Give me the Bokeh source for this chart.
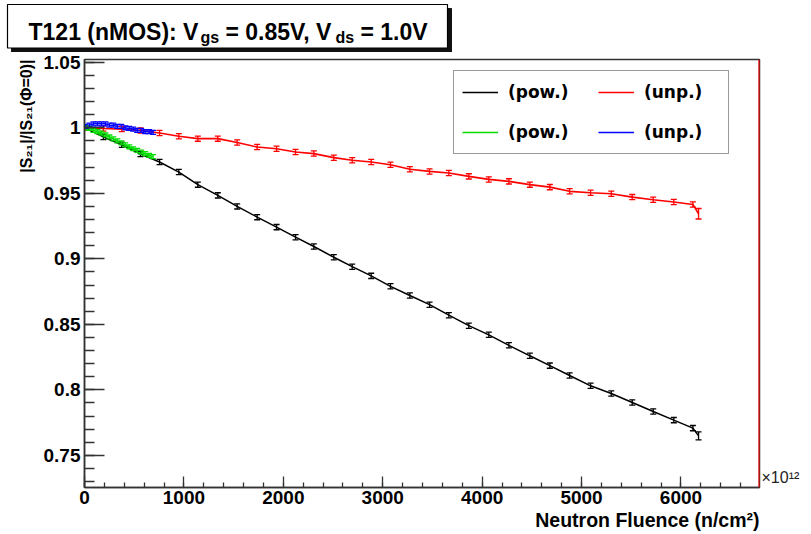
from bokeh.plotting import figure
from bokeh.layouts import column, row
from bokeh.models import (Range1d, SingleIntervalTicker, FixedTicker, CustomJSTickFormatter,
                          Whisker, TeeHead, ColumnDataSource, Legend, LegendItem, Span, Title,
                          LinearAxis)
from bokeh.core.properties import value
from bokeh.embed import file_html
from bokeh.resources import INLINE

# ---------------- data ----------------
fluence = [0, 190, 375, 563, 755, 949, 1140, 1341, 1536, 1737, 1932, 2123, 2307, 2508,
           2693, 2884, 3078, 3273, 3471, 3665, 3866, 4067, 4269, 4480, 4681, 4880,
           5091, 5299, 5510, 5721, 5928, 6120, 6177]
pow_main = [1.000, 0.993, 0.987, 0.980, 0.9739, 0.9662, 0.9566, 0.9484, 0.940, 0.9318,
            0.9242, 0.9165, 0.9094, 0.9012, 0.894, 0.887, 0.879, 0.872, 0.865, 0.857,
            0.849, 0.842, 0.834, 0.826, 0.8185, 0.811, 0.8031, 0.7972, 0.7904, 0.7835,
            0.7769, 0.7708, 0.7649]
pow_main_err = [0.002] * 32 + [0.003]
unp_main = [1.000, 0.9995, 0.999, 0.998, 0.996, 0.9935, 0.9917, 0.9917, 0.9887, 0.9853,
            0.984, 0.9815, 0.9803, 0.9772, 0.9752, 0.9739, 0.9718, 0.9683, 0.9667, 0.9655,
            0.9629, 0.9606, 0.9591, 0.9566, 0.9547, 0.9515, 0.9504, 0.9497, 0.9471, 0.9451,
            0.9433, 0.9415, 0.9344]
unp_main_err = [0.002] * 32 + [0.004]

fluence_scan = [10, 50, 90, 130, 170, 210, 250, 290, 330, 370, 410, 450, 490, 530, 570,
                610, 650, 690]
pow_scan = [1.000, 0.9995, 0.998, 0.997, 0.996, 0.9945, 0.993, 0.9915, 0.990, 0.9885,
            0.987, 0.9855, 0.984, 0.9828, 0.9815, 0.9803, 0.979, 0.978]
unp_scan = [1.001, 1.002, 1.003, 1.003, 1.003, 1.003, 1.002, 1.002, 1.001, 1.001, 1.000,
            0.9995, 0.999, 0.998, 0.998, 0.997, 0.997, 0.9965]
scan_err = [0.0015] * 18

title_parts = ["T121 (nMOS): V", "gs", "= 0.85V, V", "ds", "= 1.0V"]
x_title = "Neutron Fluence (n/cm\u00b2)"
y_title = "|S\u2082\u2081|/|S\u2082\u2081(\u03a6=0)|"
x_exponent = "\u00d710\u00b9\u00b2"
legend_labels = ["(pow.)", "(unp.)", "(pow.)", "(unp.)"]
y_ticks = [0.75, 0.8, 0.85, 0.9, 0.95, 1.0, 1.05]
y_minor = [round(0.73 + 0.01 * i, 2) for i in range(33)]

# ---------------- layout constants (canvas pixels) ----------------
W, H = 811, 534
TITLE_H = 52
FL, FR, FT, FB = 84, 759, 59, 487
AX_FONT = "Liberation Sans"

# ---------------- title strip ----------------
t = figure(width=W, height=TITLE_H, x_range=Range1d(0, W), y_range=Range1d(TITLE_H, 0),
           output_backend="svg", toolbar_location=None, x_axis_type=None, y_axis_type=None,
           min_border=0, outline_line_color=None, background_fill_color="white",
           border_fill_color="white")
t.grid.visible = False
t.quad(left=[11], right=[451], top=[8], bottom=[51.5], fill_color="#111111",
       line_color="#111111")
t.quad(left=[7], right=[447], top=[4], bottom=[47.5], fill_color="white",
       line_color="black", line_width=1.2)
title_x = [28, 200, 225, 335, 360]
title_y = [31, 37, 31, 37, 31]
title_fs = ["23px", "16px", "23px", "16px", "23px"]
for txt, cx, cy, fs in zip(title_parts, title_x, title_y, title_fs):
    t.text(x=[cx], y=[cy], text=[txt], text_font=value(AX_FONT), text_font_style="bold",
           text_font_size=value(fs), text_color="black", text_align="left",
           text_baseline="alphabetic")

# ---------------- main plot ----------------
p = figure(width=W, height=H - TITLE_H, x_range=Range1d(0, 6790),
           y_range=Range1d(0.7255, 1.0521), output_backend="svg", toolbar_location=None,
           min_border_left=FL, min_border_right=W - FR, min_border_top=FT - TITLE_H,
           min_border_bottom=H - FB, background_fill_color="white",
           border_fill_color="white", outline_line_color="#333333", outline_line_width=1.5)
p.grid.visible = False

p.xaxis.ticker = SingleIntervalTicker(interval=1000, num_minor_ticks=5)
p.xaxis.major_tick_in = 11
p.xaxis.major_tick_out = 0
p.xaxis.minor_tick_in = 5
p.xaxis.minor_tick_out = 0
p.xaxis.major_label_standoff = 3

p.yaxis.ticker = FixedTicker(ticks=y_ticks, minor_ticks=y_minor)
p.yaxis.formatter = CustomJSTickFormatter(code="return (Math.round(tick*100)/100).toString()")
p.yaxis.major_tick_in = 20
p.yaxis.major_tick_out = 0
p.yaxis.minor_tick_in = 10
p.yaxis.minor_tick_out = 0
p.yaxis.major_label_standoff = 4

for ax in (p.xaxis, p.yaxis):
    ax.axis_line_color = "#333333"
    ax.axis_line_width = 1.5
    ax.major_tick_line_color = "#333333"
    ax.minor_tick_line_color = "#333333"
    ax.major_tick_line_width = 1.3
    ax.minor_tick_line_width = 1.3
    ax.major_label_text_font = AX_FONT
    ax.major_label_text_font_style = "bold"
    ax.major_label_text_font_size = "19px"
    ax.major_label_text_color = "black"

# axis titles, right/top aligned as in the reference
p.add_layout(Title(text=x_title, align="right", standoff=0, offset=0,
                   text_font=AX_FONT, text_font_style="bold", text_font_size="19.5px",
                   text_color="black"), "below")
p.add_layout(Title(text=y_title, align="right", standoff=12, offset=0,
                   text_font=AX_FONT, text_font_style="bold", text_font_size="16px",
                   text_color="black"), "left")

# exponent of the x axis, shown at the lower right corner of the frame
exp_axis = LinearAxis(ticker=FixedTicker(ticks=[]), axis_line_color=None,
                      major_tick_line_color=None, minor_tick_line_color=None,
                      major_label_text_font_size="0px", axis_label=x_exponent + "\n",
                      axis_label_orientation="horizontal", axis_label_standoff=2,
                      axis_label_text_font=AX_FONT, axis_label_text_font_style="normal",
                      axis_label_text_font_size="16px", axis_label_text_color="#222222")
try:
    exp_axis.axis_label_align = "start"
except Exception:
    pass
p.add_layout(exp_axis, "right")


def series(xs, ys, errs, color, lw):
    src = ColumnDataSource(dict(x=xs, y=ys,
                                lo=[y - e for y, e in zip(ys, errs)],
                                hi=[y + e for y, e in zip(ys, errs)]))
    r = p.line("x", "y", source=src, line_color=color, line_width=lw)
    w = Whisker(source=src, base="x", lower="lo", upper="hi", dimension="height",
                line_color=color, line_width=1.3, level="glyph",
                upper_head=TeeHead(size=6, line_color=color, line_width=1.3),
                lower_head=TeeHead(size=6, line_color=color, line_width=1.3))
    p.add_layout(w)
    return r


r_pow = series(fluence, pow_main, pow_main_err, "black", 1.5)
r_unp = series(fluence, unp_main, unp_main_err, "red", 1.6)
r_pow2 = series(fluence_scan, pow_scan, scan_err, "#00dd00", 1.5)
r_unp2 = series(fluence_scan, unp_scan, scan_err, "blue", 1.5)

p.add_layout(Span(location=6790, dimension="height", line_color="red", line_width=2.2,
                  level="overlay"))

legend = Legend(items=[LegendItem(label=legend_labels[0], renderers=[r_pow]),
                       LegendItem(label=legend_labels[1], renderers=[r_unp]),
                       LegendItem(label=legend_labels[2], renderers=[r_pow2]),
                       LegendItem(label=legend_labels[3], renderers=[r_unp2])],
                orientation="horizontal", ncols=2,
                location=(453 - FL, FB - 154), margin=0, padding=8, spacing=14,
                glyph_width=36, glyph_height=26, label_standoff=10, label_width=76,
                label_text_font="DejaVu Sans", label_text_font_style="bold",
                label_text_font_size="17px", label_text_color="black",
                border_line_color="#333333", border_line_width=1.5,
                background_fill_color="white", background_fill_alpha=1)
p.add_layout(legend)

# wrapping the plot in a row keeps the title strip from being frame-aligned to it
layout = column(t, row(p, spacing=0), spacing=0)
open("out.html", "w").write(file_html(layout, INLINE))
